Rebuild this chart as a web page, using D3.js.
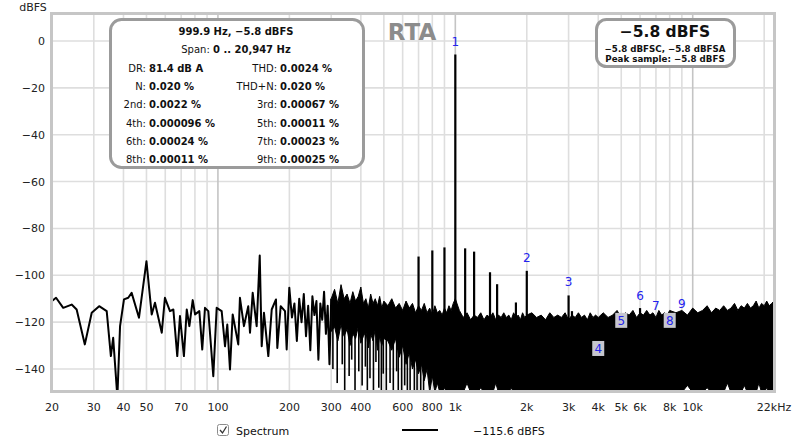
<!DOCTYPE html>
<html><head><meta charset="utf-8">
<script src="https://cdn.jsdelivr.net/npm/d3@7"></script>
<style>body{margin:0;background:#fff}svg{display:block;font-family:"DejaVu Sans",sans-serif}</style>
</head><body><svg id="c" width="800" height="446"></svg>
<script>
// ---------- axis data ----------
const xTickValues = [20,30,40,50,70,100,200,300,400,600,800,1000,2000,3000,4000,5000,6000,8000,10000,22000];
const xTickLabels = ["20","30","40","50","70","100","200","300","400","600","800","1k","2k","3k","4k","5k","6k","8k","10k","22kHz"];
const yTickValues = [0,-20,-40,-60,-80,-100,-120,-140];
const gridMinorHz = [30,40,50,60,70,80,90,200,300,400,500,600,700,800,900,2000,3000,4000,5000,6000,7000,8000,9000,20000];
const gridDecadeHz = [100,1000,10000];

// ---------- spectrum: sparse low-frequency trace (Hz, dBFS) ----------
const lowHz = [20,20.8,22.3,24.2,25.4,27.5,29.4,31.6,34.0,35.4,36.2,37.7,38.7,40.2,41.9,43.3,46.5,50,52.6,54.3,58.0,59.8,62.8,64.9,67.4,69.2,71.9,73.9,75.8,78.3,80.1,83.5,85.9,88.2,91.1,95.6,98.8,103.7,107.1,109.5,112.4,115.4,121.8,123.8,128.7,134.2,136.5,140.1,145.6,150,152.9,156.3,163,168.5,175.6,177.9,183.8,191.7,194.8,199.8,205,210,215,220,225,230,235,240,245,250,255,260,265,270,275,280,285,290,295,300];
const lowDb = [-111,-109.6,-113.9,-112.5,-114.6,-129.5,-116,-113.2,-115.3,-134.5,-126.7,-152,-121.7,-110.3,-109.6,-107.5,-118.1,-94,-116.7,-111.7,-124.5,-109.6,-115.3,-114.6,-134.5,-117.4,-134.5,-114.6,-121.7,-110.6,-116.7,-115.3,-131.7,-113.9,-115.3,-143.1,-113.9,-115.3,-130.3,-121,-140.2,-116.7,-129.5,-109.6,-121.7,-113.2,-124.5,-107.5,-121.7,-91.6,-130.3,-116,-134.5,-114.6,-110.3,-131,-113.2,-115.3,-131.7,-105.3,-118,-112,-128,-110,-120,-108,-126,-113,-132,-109,-117,-111,-136,-112,-119,-107,-125,-113,-138,-110];

// ---------- spectrum: dense region, per-band max / min (Hz, dBFS) ----------
const denseHz = [300,310,320,330,340,350,360,370,380,390,400,410,420,430,440,450,460,470,480,490,500,
  520,540,560,580,600,620,640,660,680,700,720,740,760,780,800,820,840,860,880,900,920,940,960,980,1000,
  1040,1080,1120,1160,1200,1240,1280,1320,1360,1400,1440,1480,1520,1560,1600,1640,1680,1720,1760,1800,1840,1880,1920,1960,2000,
  2100,2200,2300,2400,2500,2600,2700,2800,2900,3000,3100,3200,3300,3400,3500,3600,3700,3800,3900,4000,
  4200,4400,4600,4800,5000,5200,5400,5600,5800,6000,6200,6400,6600,6800,7000,7200,7400,7600,7800,8000,
  8500,9000,9500,10000,10500,11000,11500,12000,12500,13000,13500,14000,14500,15000,15500,16000,16500,17000,17500,18000,18500,19000,19500,20000,20500,21000,21500,22000];
const denseMaxDb = [-110,-106,-112,-104,-110,-108,-112,-107,-111,-109,-105,-112,-110,-114,-108,-112,-110,-113,-109,-114,-111,
  -113,-110,-114,-112,-115,-111,-114,-112,-116,-113,-115,-112,-116,-114,-117,-113,-116,-115,-117,-114,-116,-113,-115,-112,-110,
  -115,-118,-116,-119,-117,-118,-116,-119,-117,-118,-116,-119,-117,-118,-116,-118,-117,-119,-116,-118,-117,-119,-116,-118,-117,
  -116,-118,-117,-119,-116,-118,-117,-118,-116,-119,-117,-118,-116,-118,-117,-119,-116,-118,-117,-118,
  -116,-118,-117,-115,-118,-116,-117,-115,-118,-116,-117,-115,-117,-116,-118,-115,-117,-116,-117,-115,
  -116,-115,-117,-114,-116,-115,-113,-116,-114,-115,-113,-115,-114,-112,-115,-113,-114,-112,-114,-113,-111,-114,-112,-113,-111,-113,-112,-111];
const denseMinDb = [-124,-122,-128,-121,-126,-123,-130,-125,-127,-122,-129,-126,-124,-131,-125,-128,-123,-132,-126,-130,-127,
  -128,-132,-127,-135,-130,-138,-133,-140,-136,-142,-138,-145,-140,-150,-143,-150,-146,-150,-150,-148,-150,-150,-150,-150,-150,
  -150,-150,-146,-150,-150,-150,-148,-150,-150,-150,-150,-146,-150,-150,-150,-150,-150,-148,-150,-150,-150,-150,-150,-150,-150,
  -150,-150,-150,-150,-150,-150,-150,-150,-150,-150,-150,-150,-150,-150,-150,-150,-150,-150,-150,-150,
  -150,-150,-150,-150,-150,-150,-150,-150,-150,-150,-150,-150,-150,-150,-150,-150,-150,-150,-150,-150,
  -150,-150,-147,-150,-150,-150,-148,-150,-150,-150,-150,-146,-150,-150,-150,-150,-147,-150,-150,-150,-150,-146,-150,-150,-148,-150,-150,-150];

// ---------- deep single bins below the noise band (Hz, dBFS) ----------
const dropHz = [305,318,334,342,357,366,378,392,405,418,426,437,452,463,476,488,497,512,531,548,566,575,594,612,628,645,672,690,715,735];
const dropDb = [-140,-146,-138,-150,-143,-136,-150,-141,-147,-139,-150,-144,-150,-137,-148,-150,-142,-150,-146,-150,-141,-150,-150,-147,-150,-150,-150,-149,-150,-150];

// ---------- discrete tones (Hz, dBFS) ----------
const toneHz = [700,800,900,1000,1100,1200,1400,1500,1800,2000,3000,3100,6000];
const toneDb = [-92,-89.4,-88.1,-5.8,-88.5,-89.9,-98.7,-103.8,-111.6,-98.1,-108.6,-115.3,-114];

// ---------- harmonic markers ----------
const harmonicNo = ["1","2","3","4","5","6","7","8","9"];
const harmonicHz = [1000,2000,3000,4000,5000,6000,7000,8000,9000];
const harmonicDb = [-5.8,-98.1,-108.6,-137,-125,-114.2,-118.5,-125,-117.9];
const harmonicHidden = [false,false,false,true,true,false,false,true,false];

// ---------- info texts ----------
const infoTitle = "999.9 Hz, −5.8 dBFS";
const infoSpanLabel = "Span: ";
const infoSpanValue = "0 .. 20,947 Hz";
const infoLeftLabels = ["DR:","N:","2nd:","4th:","6th:","8th:"];
const infoLeftValues = ["81.4 dB A","0.020 %","0.0022 %","0.000096 %","0.00024 %","0.00011 %"];
const infoRightLabels = ["THD:","THD+N:","3rd:","5th:","7th:","9th:"];
const infoRightValues = ["0.0024 %","0.020 %","0.00067 %","0.00011 %","0.00023 %","0.00025 %"];
const levelMain = "−5.8 dBFS";
const levelSub1 = "−5.8 dBFSC, −5.8 dBFSA";
const levelSub2 = "Peak sample: −5.8 dBFS";
const legendName = "Spectrum";
const legendValue = "−115.6 dBFS";

// ---------- layout ----------
const L = 52, R = 774, T = 14, B = 391;
const svg = d3.select("#c");
const x = d3.scaleLog().domain([20, 22000]).range([L, R]);
const y = d3.scaleLinear().domain([-140, 0]).range([369, 41]);

svg.append("defs").append("clipPath").attr("id","clip")
  .append("rect").attr("x",L).attr("y",T).attr("width",R-L).attr("height",B-T);

// grid
const g = svg.append("g");
g.selectAll(".hg").data(yTickValues).join("line")
  .attr("x1",L).attr("x2",R).attr("y1",d=>y(d)).attr("y2",d=>y(d))
  .attr("stroke","#dedede").attr("stroke-width",1.6);
g.selectAll(".vg").data(gridMinorHz).join("line")
  .attr("x1",d=>x(d)).attr("x2",d=>x(d)).attr("y1",T).attr("y2",B)
  .attr("stroke","#dedede").attr("stroke-width",1.6);
g.selectAll(".vd").data(gridDecadeHz).join("line")
  .attr("x1",d=>x(d)).attr("x2",d=>x(d)).attr("y1",T).attr("y2",B)
  .attr("stroke","#c4c4c4").attr("stroke-width",1.6);

// spectrum
const sp = svg.append("g").attr("clip-path","url(#clip)");
const denseData = denseHz.map((f,i)=>({f, hi:denseMaxDb[i], lo:denseMinDb[i]}));
sp.append("path").datum(denseData)
  .attr("d", d3.area().x(d=>x(d.f)).y0(d=>y(d.lo)).y1(d=>y(d.hi)))
  .attr("fill","#000").attr("stroke","#000").attr("stroke-width",1).attr("stroke-linejoin","miter");
sp.selectAll(".drop").data(dropHz.map((f,i)=>({f, db:dropDb[i]}))).join("line")
  .attr("x1",d=>x(d.f)).attr("x2",d=>x(d.f)).attr("y1",y(-120)).attr("y2",d=>y(d.db))
  .attr("stroke","#000").attr("stroke-width",1.6);
const lowData = lowHz.map((f,i)=>({f, db:lowDb[i]}));
sp.append("path").datum(lowData)
  .attr("d", d3.line().x(d=>x(d.f)).y(d=>y(d.db)))
  .attr("fill","none").attr("stroke","#000").attr("stroke-width",2).attr("stroke-linejoin","round");
sp.selectAll(".tone").data(toneHz.map((f,i)=>({f, db:toneDb[i]}))).join("line")
  .attr("x1",d=>x(d.f)).attr("x2",d=>x(d.f)).attr("y1",d=>y(d.db)).attr("y2",y(-128))
  .attr("stroke","#000").attr("stroke-width",2.2);

// frame
svg.append("rect").attr("x",L-0.5).attr("y",T-0.5).attr("width",R-L+1).attr("height",B-T+1)
  .attr("fill","none").attr("stroke","#c6c6c6").attr("stroke-width",3);

// harmonic markers
const mk = svg.append("g");
harmonicHz.forEach((f,i)=>{
  const cx = x(f), cy = y(harmonicDb[i]) - 13.5;
  if (harmonicHidden[i]) {
    mk.append("rect").attr("x",cx-6).attr("y",cy-7.5).attr("width",12).attr("height",15)
      .attr("fill","#c6c6ce");
  }
  mk.append("text").attr("x",cx).attr("y",cy+4.5).attr("text-anchor","middle")
    .attr("font-size",12).attr("fill","#2323ee").text(harmonicNo[i]);
});

// axis labels
svg.append("text").attr("x",33).attr("y",11).attr("text-anchor","middle").attr("font-size",11).attr("fill","#222").text("dBFS");
svg.selectAll(".yl").data(yTickValues).join("text")
  .attr("x",45).attr("y",d=>y(d)+4).attr("text-anchor","end").attr("font-size",11).attr("fill","#222")
  .text(d=> d<0 ? "−"+(-d) : String(d));
svg.selectAll(".xl").data(xTickValues).join("text")
  .attr("x",d=>x(d)).attr("y",411).attr("text-anchor","middle").attr("font-size",11).attr("fill","#222")
  .text((d,i)=>xTickLabels[i]);

// title
svg.append("text").attr("x",412).attr("y",40).attr("text-anchor","middle").attr("font-size",23)
  .attr("font-weight","bold").attr("fill","#8c8c8c").text("RTA");

// info box
svg.append("rect").attr("x",110.5).attr("y",19.5).attr("width",253).attr("height",148).attr("rx",11)
  .attr("fill","#fff").attr("stroke","#9b9b9b").attr("stroke-width",3);
const ib = svg.append("g").attr("font-size",10).attr("fill","#111");
ib.append("text").attr("x",236).attr("y",35).attr("text-anchor","middle").attr("font-weight","bold").text(infoTitle);
const spanT = ib.append("text").attr("x",236).attr("y",53).attr("text-anchor","middle");
spanT.append("tspan").text(infoSpanLabel);
spanT.append("tspan").attr("font-weight","bold").text(infoSpanValue);
infoLeftLabels.forEach((lab,i)=>{
  const yy = 72 + i*18.2;
  ib.append("text").attr("x",146).attr("y",yy).attr("text-anchor","end").text(lab);
  ib.append("text").attr("x",149).attr("y",yy).attr("font-weight","bold").text(infoLeftValues[i]);
  ib.append("text").attr("x",277).attr("y",yy).attr("text-anchor","end").text(infoRightLabels[i]);
  ib.append("text").attr("x",280).attr("y",yy).attr("font-weight","bold").text(infoRightValues[i]);
});

// level box
svg.append("rect").attr("x",596.5).attr("y",19.5).attr("width",138).attr("height",47).attr("rx",10)
  .attr("fill","#fff").attr("stroke","#9b9b9b").attr("stroke-width",3);
svg.append("text").attr("x",665).attr("y",37).attr("text-anchor","middle").attr("font-size",15.5)
  .attr("font-weight","bold").attr("fill","#111").text(levelMain);
svg.append("text").attr("x",665).attr("y",52).attr("text-anchor","middle").attr("font-size",8.7)
  .attr("font-weight","bold").attr("fill","#111").text(levelSub1);
svg.append("text").attr("x",665).attr("y",62).attr("text-anchor","middle").attr("font-size",8.7)
  .attr("font-weight","bold").attr("fill","#111").text(levelSub2);

// legend
svg.append("rect").attr("x",217.5).attr("y",424.5).attr("width",11).attr("height",11).attr("rx",2)
  .attr("fill","#fff").attr("stroke","#8c8c8c");
svg.append("path").attr("d","M220 430 L222.5 433 L226.5 426.5").attr("fill","none").attr("stroke","#333").attr("stroke-width",1.3);
svg.append("text").attr("x",236).attr("y",435).attr("font-size",11).attr("fill","#111").text(legendName);
svg.append("line").attr("x1",402).attr("x2",438).attr("y1",430).attr("y2",430).attr("stroke","#000").attr("stroke-width",2);
svg.append("text").attr("x",473).attr("y",435).attr("font-size",11).attr("fill","#111").text(legendValue);
</script></body></html>
